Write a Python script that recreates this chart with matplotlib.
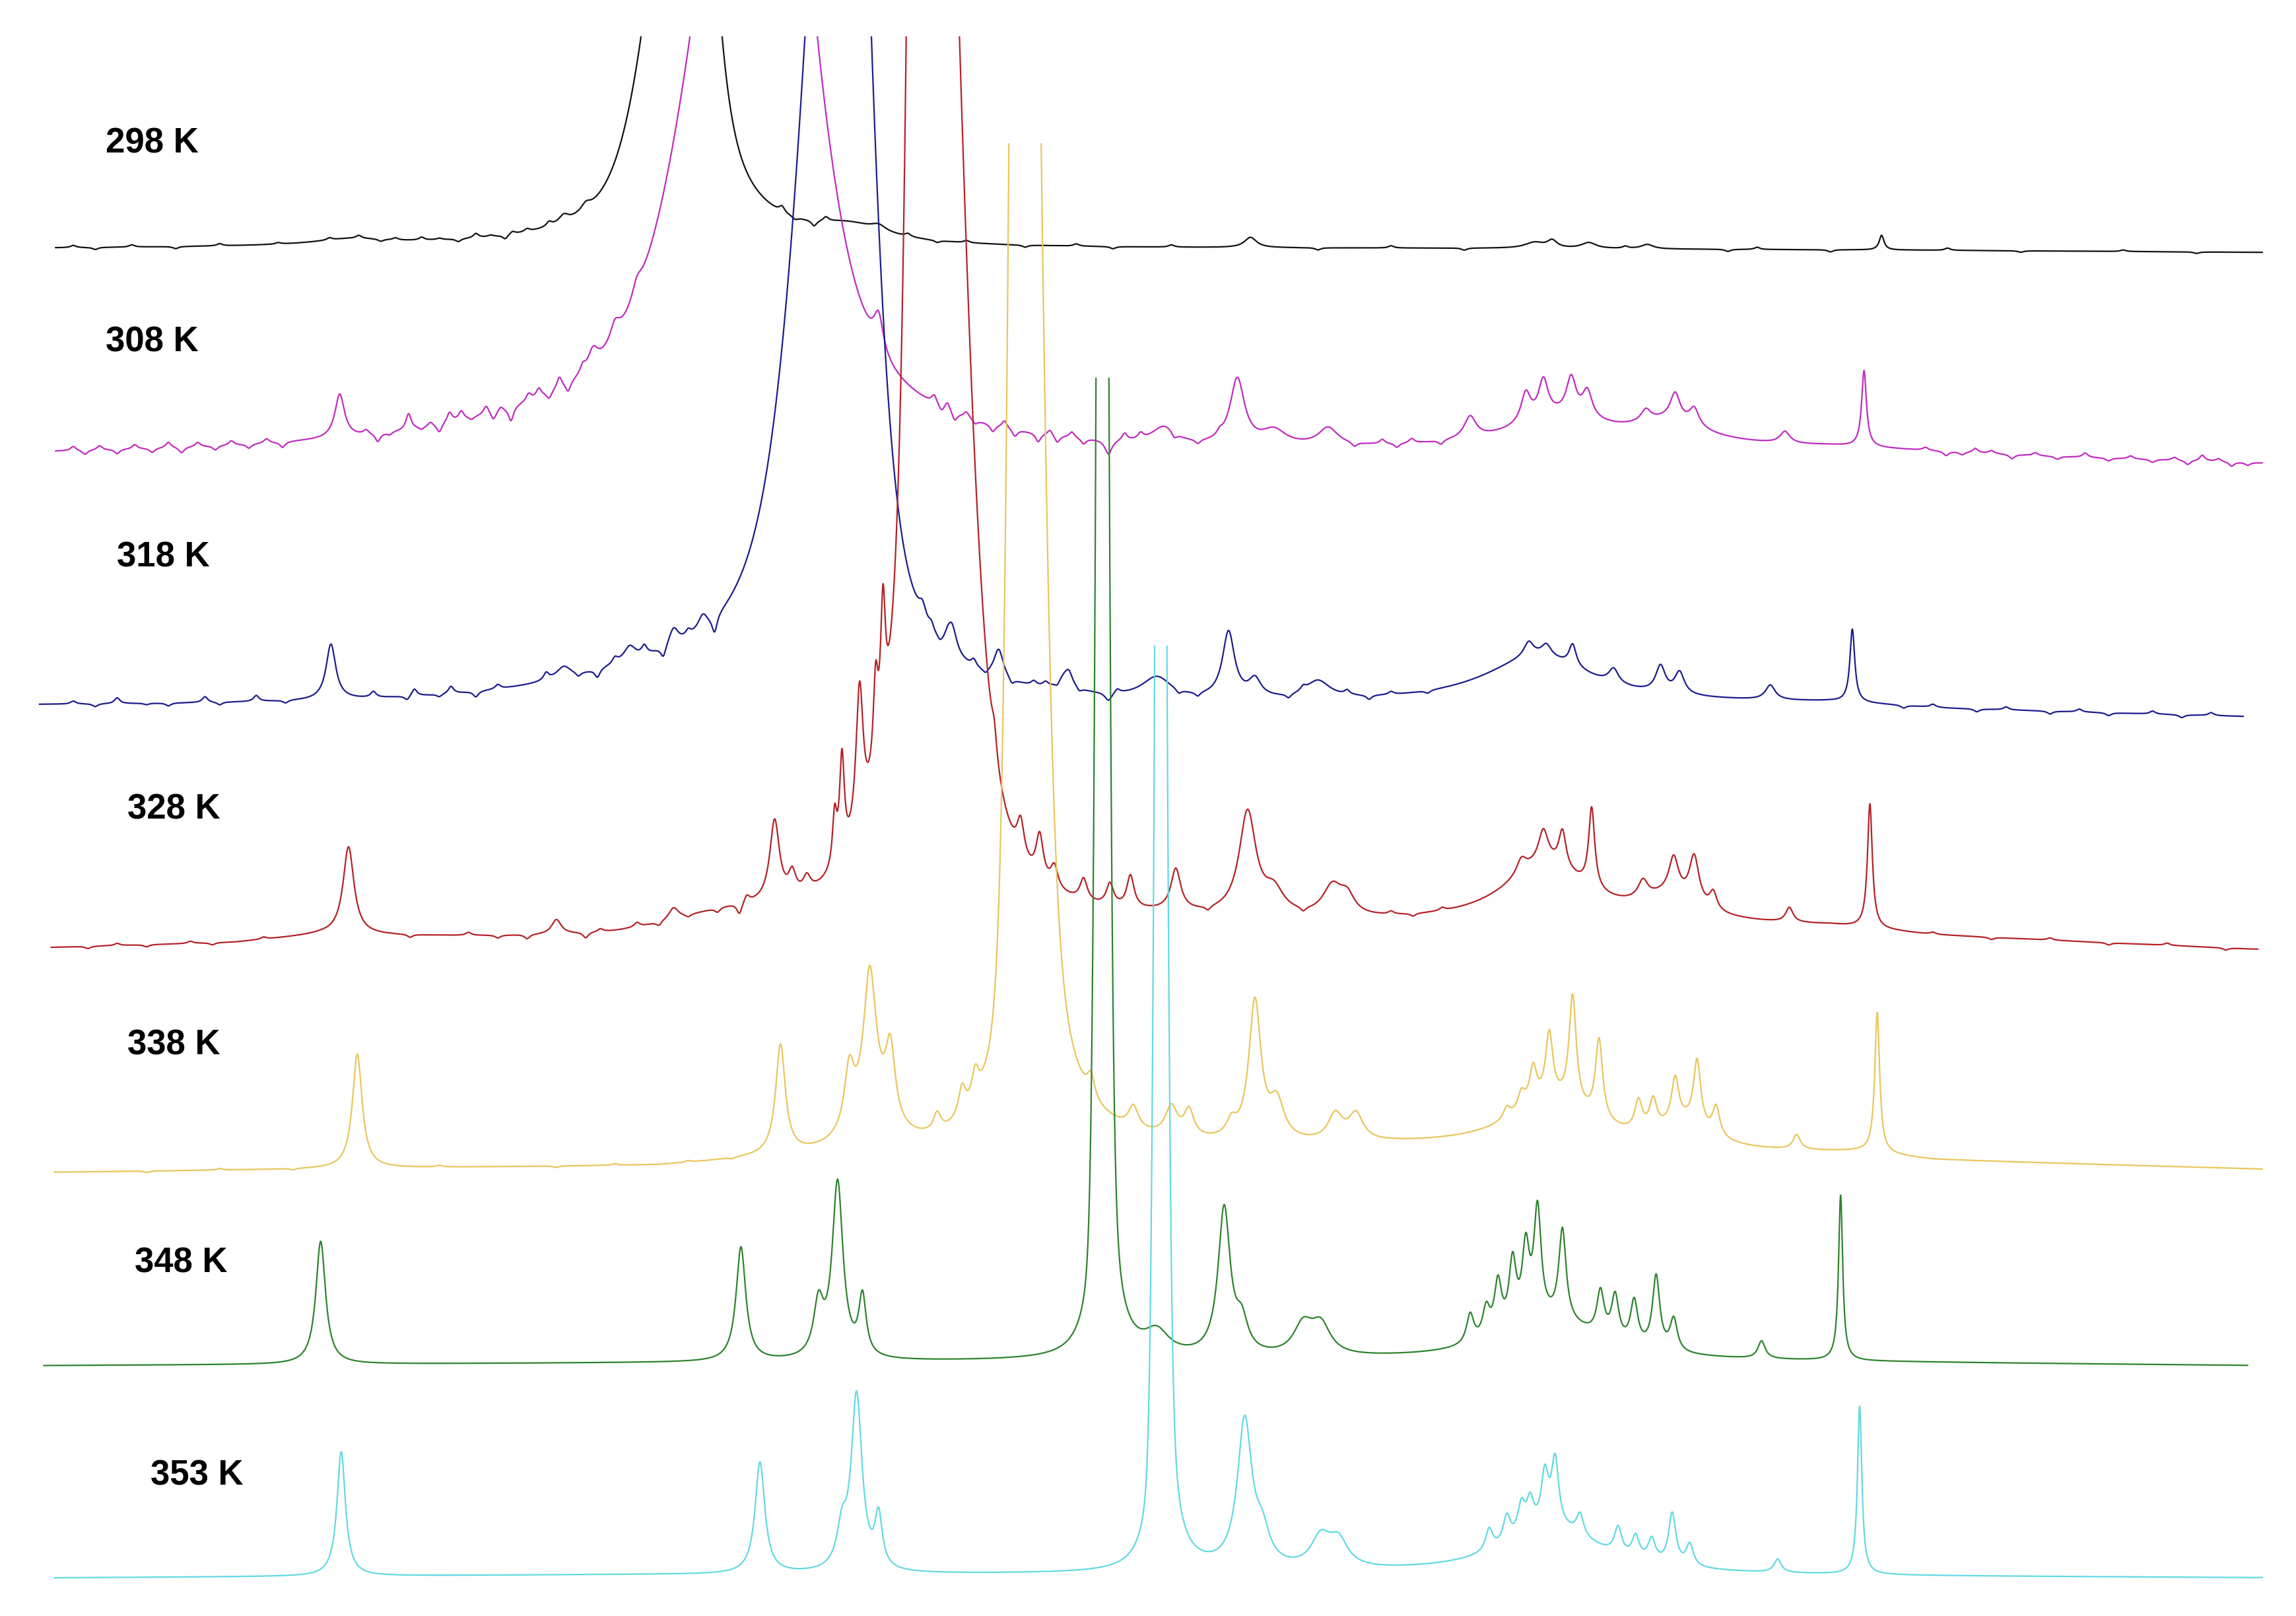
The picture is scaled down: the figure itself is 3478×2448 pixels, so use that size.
import numpy as np
import matplotlib
matplotlib.use("Agg")
import matplotlib.pyplot as plt
from matplotlib.patches import Rectangle

# ---------------- data ----------------
# x: shift position, y: vertical position (downward, picture units)
TEMPS = ["298 K", "308 K", "318 K", "328 K", "338 K", "348 K", "353 K"]
COLORS = ["#111111", "#C02CC0", "#1C1C8E", "#B42226", "#E9C65E", "#2E832E", "#62DAE2"]
LABEL_X = [72, 72, 80, 87, 87, 92, 103]
LABEL_Y = [98, 234, 381, 553, 714, 863, 1008]
X_START = [38, 38, 27, 35, 37, 30, 37]
X_END = [1545, 1545, 1532, 1542, 1545, 1535, 1545]
CLIP_Y = [25, 25, 25, 25, 98, 258, 441]

# baselines: (x, y)
BASE_298 = [(38, 170), (300, 169), (700, 170), (1000, 170), (1300, 171), (1545, 172.5)]
BASE_308 = [(38, 312), (200, 311), (800, 312), (1000, 309), (1250, 307), (1400, 313), (1545, 317)]
BASE_318 = [(27, 483), (700, 483), (1000, 482), (1250, 481), (1330, 485), (1532, 490)]
BASE_328 = [(35, 648), (160, 645), (220, 640), (300, 642), (420, 645), (700, 640), (800, 632),
            (1000, 633), (1250, 634), (1320, 640), (1540, 649)]
BASE_338 = [(37, 801), (300, 798), (450, 797), (520, 793), (700, 788), (950, 784), (1010, 784),
            (1200, 788), (1270, 788), (1320, 793), (1545, 799)]
BASE_348 = [(30, 933), (700, 930), (1000, 929), (1300, 931), (1535, 933)]
BASE_353 = [(37, 1078), (400, 1076), (1000, 1075), (1300, 1077), (1545, 1078)]

# solvent/main peaks: (centre, h_left, w_left, eta_left, h_right, w_right, eta_right)
MAIN_298 = [(465.5, 327, 25, 0.6, 714, 16, 0.6)]
MAIN_308 = [(515, 542, 45, 0.6, 720, 36, 0.6)]
MAIN_318 = [(572.5, 742, 28, 0.7, 1068, 20, 0.5)]
MAIN_328 = [(637, 3780, 10, 0.45, 1050, 21, 0.45)]
MAIN_338 = [(700, 2355, 8, 0.3, 1380, 11, 0.5)]
MAIN_348 = [(753, 1583, 4, 0.3, 1475, 4, 0.4)]
MAIN_353 = [(792.75, 1431, 3.8, 0.3, 1329, 4, 0.4)]

# other resonances: (centre, height, half width)
PEAKS_298 = [(240, 4, 30), (385, 5, 4), (400, 5, 4), (580, 10, 30), (600, 4, 6), (854, 7, 5),
             (1048, 4, 8), (1060, 5, 4), (1085, 4, 6), (1125, 3, 5), (1285, 10, 2)]
PEAKS_308 = [(380, 12, 100), (232, 30, 4), (405, 12, 4), (420, 12, 4), (435, 10, 4), (600, 25, 4),
             (757, -10, 3), (795, 12, 10),
             (845, 45, 6), (870, 10, 10), (907, 12, 8), (1004, 15, 5), (1065, 20, 40),
             (1042, 20, 4), (1054, 25, 4), (1073, 25, 4), (1084, 18, 4), (1140, 15, 30),
             (1124, 8, 4), (1144, 18, 4), (1157, 12, 4), (1219, 8, 4), (1273, 52, 2)]
PEAKS_318 = [(440, 12, 80), (226, 38, 4), (385, 8, 6), (430, 10, 5), (460, 12, 4), (480, 10, 4),
             (630, 10, 3), (650, 20, 4), (682, 20, 4), (728, 12, 6), (757, -6, 3), (790, 14, 12),
             (839, 45, 5), (857, 12, 5), (900, 12, 10), (1050, 32, 45), (1044, 10, 4),
             (1056, 8, 4), (1074, 15, 3), (1102, 10, 4), (1134, 18, 4), (1147, 15, 4),
             (1209, 10, 4), (1265, 50, 2)]
PEAKS_328 = [(500, 15, 60), (238, 60, 4.5), (380, 10, 4), (460, 8, 4), (529, 55, 4), (541, 15, 3),
             (551, 10, 3), (570, 35, 1.8), (575, 70, 2), (587, 100, 3), (598, 60, 2), (603, 90, 2),
             (679, 15, 2), (697, 25, 3), (710, 30, 3), (720, 15, 3), (740, 15, 3), (758, 15, 3),
             (772, 22, 3), (803, 28, 4), (852, 70, 7), (870, 15, 8), (910, 20, 8), (920, 12, 6),
             (1055, 40, 35), (1039, 10, 4), (1054, 22, 4), (1067, 25, 3), (1087, 55, 2.5),
             (1140, 15, 25), (1122, 12, 4), (1143, 25, 4), (1157, 32, 4), (1170, 12, 3),
             (1222, 10, 3), (1277, 85, 2)]
PEAKS_338 = [(244, 78, 4), (533, 75, 4), (595, 30, 15), (580, 40, 4), (594, 90, 5), (608, 50, 4),
             (640, 12, 3), (657, 20, 3), (666, 20, 3), (745, 15, 3), (774, 15, 4), (800, 20, 5),
             (812, 18, 4), (841, 10, 4), (857, 95, 5), (872, 25, 6), (912, 18, 6), (926, 18, 6),
             (1060, 30, 35), (1029, 8, 3), (1039, 12, 3), (1047, 25, 3), (1058, 45, 3),
             (1074, 75, 3), (1092, 55, 3), (1119, 20, 3), (1129, 20, 3), (1150, 15, 20),
             (1144, 30, 3), (1159, 45, 3), (1172, 20, 3), (1227, 10, 3), (1282, 96, 2)]
PEAKS_348 = [(219, 84, 4), (506, 78, 4), (572, 120, 4.5), (559, 35, 4), (589, 40, 3), (790, 15, 10),
             (836, 100, 5), (848, 20, 5), (890, 20, 8), (902, 20, 8), (1060, 25, 40),
             (1004, 20, 3), (1015, 20, 3), (1023, 35, 3), (1033, 45, 3), (1042, 50, 3),
             (1050, 75, 3), (1067, 62, 3), (1093, 30, 3), (1103, 30, 3), (1116, 30, 3),
             (1131, 50, 3), (1143, 22, 3), (1203, 12, 3), (1257, 113, 1.7)]
PEAKS_353 = [(233, 85, 3.5), (519, 76, 4), (585, 120, 4.5), (575, 25, 4), (600, 35, 3),
             (850, 100, 6), (862, 20, 6), (902, 20, 8), (914, 18, 8), (1060, 30, 40),
             (1017, 15, 3), (1029, 18, 3), (1039, 20, 3), (1045, 20, 3), (1055, 35, 3),
             (1062, 45, 3), (1079, 15, 3), (1105, 18, 3), (1117, 15, 3), (1128, 15, 3),
             (1142, 35, 3), (1154, 15, 3), (1214, 9, 3), (1270, 115, 1.8)]

# noise ripples seen on the low-temperature traces: (position, amplitude)
RIPPLE_298 = [(50, 1.5), (65, -1.5), (90, 1.5), (120, -1.5), (150, 1.5), (190, 1), (225, 1.5),
              (245, 2), (260, -1.5), (270, 1.5), (288, 2), (300, 1), (313, -2), (325, 3),
              (335, 1), (345, -3), (350, 2), (360, 2), (375, 3), (534, 4), (543, -2), (556, -4),
              (564, 3), (620, 2), (640, -1.5), (660, 1.5), (700, -1.5), (735, 1.5), (760, -1.5),
              (800, 1.5), (900, -1.5), (950, 1.5), (1000, -1.5), (1110, 1.5), (1180, -1.5),
              (1200, 1.5), (1250, -1.5), (1330, 1.5), (1380, -1), (1450, 1), (1500, -1)]
RIPPLE_308 = [(50, 3), (58, -3), (68, 3), (80, -3), (92, 3), (104, -3), (115, 4), (124, -4),
              (135, 3), (147, -3), (158, 3), (170, -3), (182, 3), (193, -4),
              (250, 3), (258, -6), (266, -2), (279, 11), (288, -2), (294, 3), (300, -6),
              (307, 7), (315, 6), (322, -2), (332, 6), (337, -6), (342, 3), (349, -10),
              (361, 5), (368, 6), (375, -5), (382, 8), (388, -7), (398, 5),
              (638, 6), (643, -4), (647, 6), (652, -6), (660, 4), (666, -3), (678, -5),
              (686, 5), (693, -5), (709, -6), (717, 4), (722, -5), (732, 4), (740, -4),
              (768, 5), (779, 4), (802, -4), (818, -3), (833, 3), (925, -3), (944, 3),
              (954, -3), (964, 3), (984, -3), (1315, 2), (1329, -3), (1340, -2), (1349, 3),
              (1360, 2), (1374, -3), (1390, 2), (1405, -2), (1424, 3), (1440, -2), (1455, 2),
              (1470, -2), (1485, 2), (1494, -3), (1504, 4), (1515, 2), (1524, -3), (1535, -2)]
RIPPLE_318 = [(50, 2), (65, -2), (80, 4), (100, -1), (115, -2), (140, 4), (150, -2), (175, 4),
              (195, -2), (255, 4), (278, -3), (283, 5), (300, -2), (308, 5), (325, -4),
              (340, 3), (373, 5), (395, -3), (408, -6), (420, 4), (440, 6), (453, -8),
              (470, 4), (488, -12), (636, 5), (642, -3), (647, 4), (665, 5), (673, -3),
              (691, -4), (706, 3), (714, 3), (722, -3), (730, 4), (737, -3), (763, 3),
              (805, -3), (818, -3), (880, -3), (890, 3), (920, 3), (935, -3), (950, 2),
              (975, -2), (1300, -2), (1320, 2), (1350, -2), (1370, 2), (1400, -2), (1420, 2),
              (1440, -2), (1470, 2), (1490, -2), (1510, 2)]
RIPPLE_328 = [(60, -1.5), (80, 1.5), (100, -1.5), (130, 1.5), (145, -1.5), (180, 1.5),
              (280, -2), (320, 2), (340, -2), (360, -3), (400, -4), (410, 2), (435, 3),
              (450, -3), (470, -2), (490, -3), (505, -8), (510, 5), (825, -3), (890, -3),
              (950, 2), (965, -2), (985, 2), (1320, 1.5), (1360, -1.5), (1400, 1.5),
              (1440, -1.5), (1480, 1.5), (1520, -1.5)]
RIPPLE_338 = [(100, -1), (150, 1), (200, -1), (300, 1), (380, -1), (420, 1), (470, 1), (500, -1)]
RIPPLE_348 = []
RIPPLE_353 = []

BASES = [BASE_298, BASE_308, BASE_318, BASE_328, BASE_338, BASE_348, BASE_353]
MAINS = [MAIN_298, MAIN_308, MAIN_318, MAIN_328, MAIN_338, MAIN_348, MAIN_353]
PEAKS = [PEAKS_298, PEAKS_308, PEAKS_318, PEAKS_328, PEAKS_338, PEAKS_348, PEAKS_353]
RIPPLES = [RIPPLE_298, RIPPLE_308, RIPPLE_318, RIPPLE_328, RIPPLE_338, RIPPLE_348, RIPPLE_353]
RIPPLE_WIDTH = 2.2


def line_shape(x, c, h, w, eta):
    d2 = ((x - c) / w) ** 2
    return h * (eta / (1.0 + d2) + (1.0 - eta) * np.exp(-np.log(2.0) * d2))


def spectrum(x, base, peaks, mains, ripple):
    bx, by = zip(*base)
    y = np.interp(x, bx, by)
    s = np.zeros_like(x)
    for c, h, w in peaks:
        s += line_shape(x, c, h, w, 1.0)
    for c, h in ripple:
        s += line_shape(x, c, h, RIPPLE_WIDTH, 1.0)
    for c, hl, wl, el, hr, wr, er in mains:
        s += np.where(x < c, line_shape(x, c, hl, wl, el), line_shape(x, c, hr, wr, er))
    return y - s


W, H = 1568, 1104
fig = plt.figure(figsize=(34.78, 24.48), dpi=100)
fig.patch.set_facecolor("white")
ax = fig.add_axes([0, 0, 1, 1])
ax.set_xlim(0, W)
ax.set_ylim(H, 0)
ax.axis("off")

for i in range(len(TEMPS)):
    x = np.arange(X_START[i], X_END[i], 0.1)
    y = spectrum(x, BASES[i], PEAKS[i], MAINS[i], RIPPLES[i])
    ln, = ax.plot(x, y, color=COLORS[i], lw=1.6, solid_joinstyle="round")
    clip = Rectangle((0, CLIP_Y[i]), W, 2 * H, transform=ax.transData)
    ln.set_clip_path(clip)
    ax.text(LABEL_X[i], LABEL_Y[i], TEMPS[i], ha="left", va="center",
            fontsize=38, fontweight="bold", family=["Liberation Sans", "DejaVu Sans"],
            color="black")

fig.savefig("out.png", dpi=100, facecolor="white")
